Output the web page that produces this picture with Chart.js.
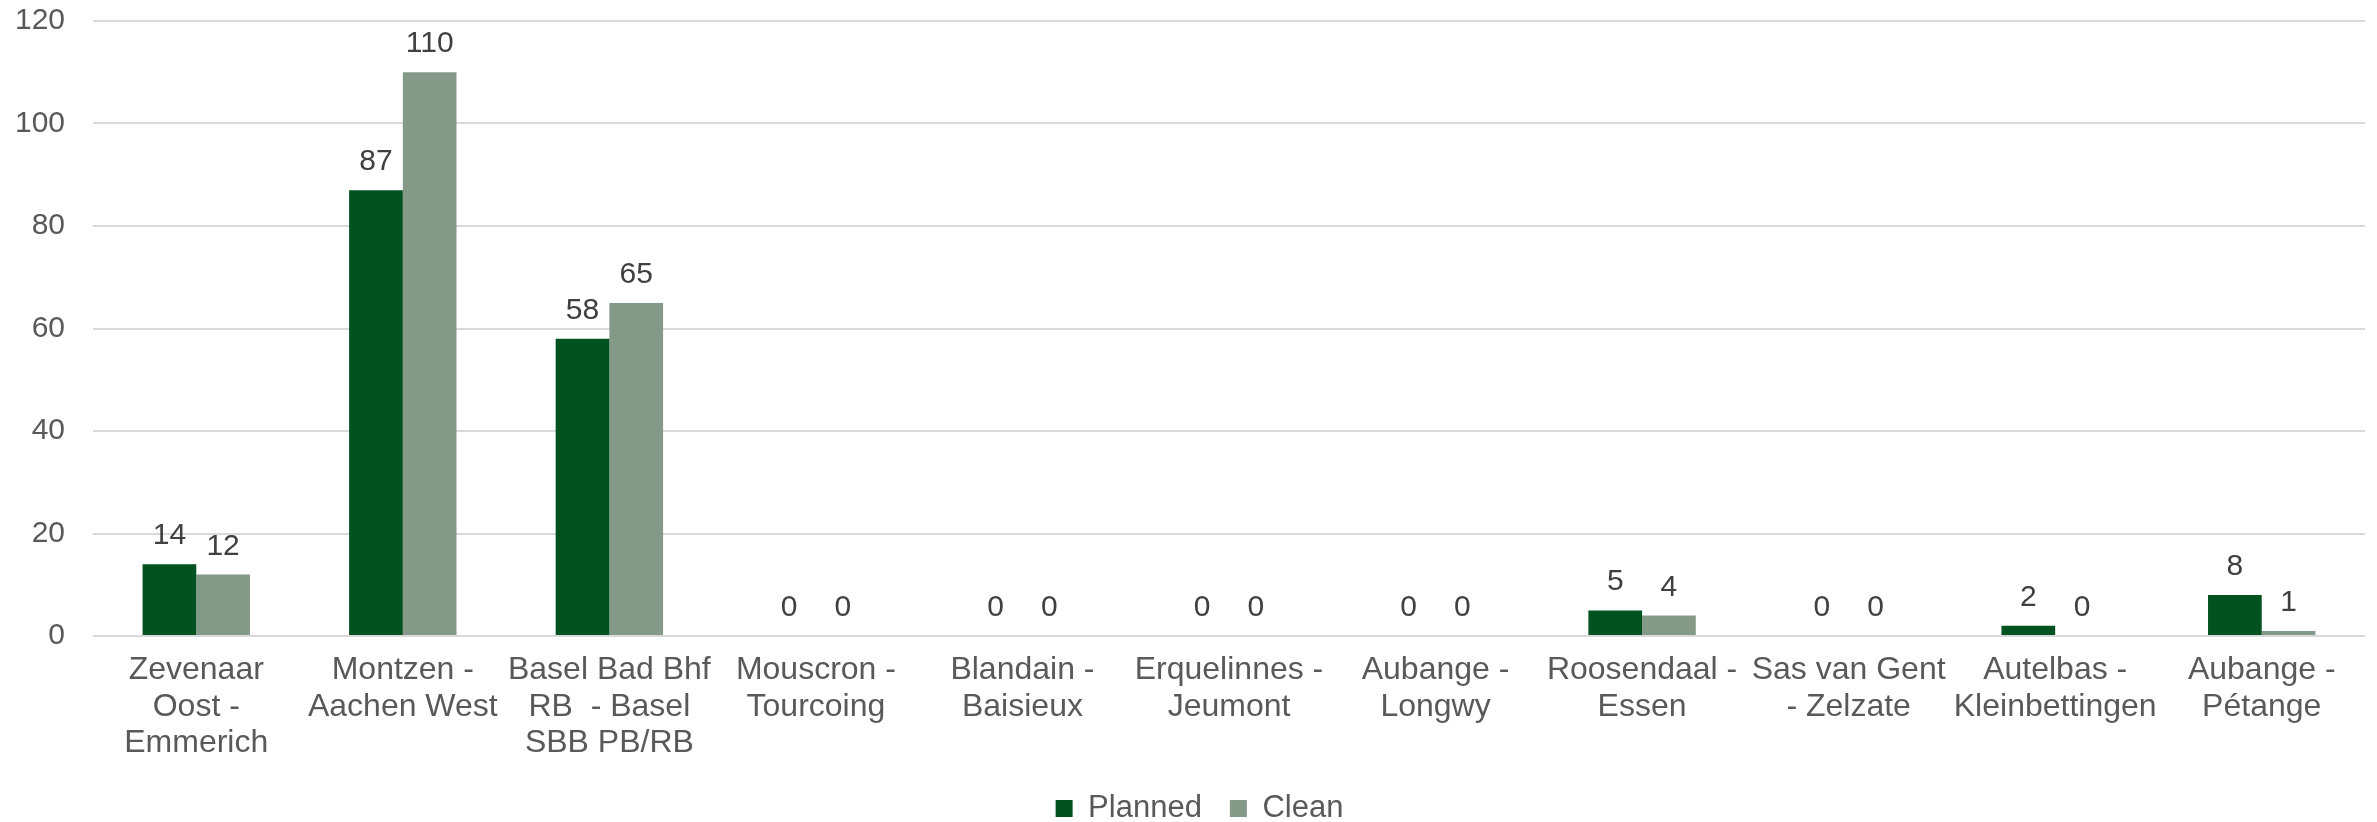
<!DOCTYPE html>
<html>
<head>
<meta charset="utf-8">
<script src="https://cdn.jsdelivr.net/npm/chart.js@4.4.0/dist/chart.umd.min.js"></script>
<style>
  html, body { margin: 0; padding: 0; background: #fff; }
  #wrap { width: 2377px; height: 822px; position: relative; }
</style>
</head>
<body>
<div id="wrap"><canvas id="barChart"></canvas></div>
<script>
// border crossings
const crossings = [
    ['Zevenaar', 'Oost -', 'Emmerich'],
    ['Montzen -', 'Aachen West'],
    ['Basel Bad Bhf', 'RB  - Basel', 'SBB PB/RB'],
    ['Mouscron -', 'Tourcoing'],
    ['Blandain -', 'Baisieux'],
    ['Erquelinnes -', 'Jeumont'],
    ['Aubange -', 'Longwy'],
    ['Roosendaal -', 'Essen'],
    ['Sas van Gent', '- Zelzate'],
    ['Autelbas -', 'Kleinbettingen'],
    ['Aubange -', 'Pétange']
];
const planned = [14, 87, 58, 0, 0, 0, 0, 5, 0, 2, 8];
const clean = [12, 110, 65, 0, 0, 0, 0, 4, 0, 0, 1];
const yTicks = [0, 20, 40, 60, 80, 100, 120];

const fontFamily = '"Liberation Sans", Arial, sans-serif';

// value labels above each bar
const barValues = {
    id: 'barValues',
    afterDatasetsDraw(chart) {
        const ctx = chart.ctx;
        ctx.save();
        ctx.font = '30px ' + fontFamily;
        ctx.fillStyle = '#404040';
        ctx.textAlign = 'center';
        ctx.textBaseline = 'alphabetic';
        chart.data.datasets.forEach((ds, i) => {
            chart.getDatasetMeta(i).data.forEach((bar, j) => {
                ctx.fillText(String(ds.data[j]), bar.x, bar.y - 20);
            });
        });
        ctx.restore();
    }
};

// nudge the legend a bit to the right of the canvas centre
const legendShift = {
    id: 'legendShift',
    afterLayout(chart) {
        chart.legend.left += 17;
        chart.legend.right += 17;
    }
};

const ctx = document.getElementById('barChart').getContext('2d');
const myChart = new Chart(ctx, {
    type: 'bar',
    data: {
        labels: crossings,
        datasets: [{
                label: 'Planned',
                backgroundColor: '#02521f',
                borderWidth: 0,
                data: planned
            },
            {
                label: 'Clean',
                backgroundColor: '#859989',
                borderWidth: 0,
                data: clean
            }
        ]
    },
    plugins: [barValues, legendShift],
    options: {
        responsive: true,
        maintainAspectRatio: false,
        animation: false,
        layout: {
            padding: { top: 0, right: 12, bottom: -12, left: 0 }
        },
        datasets: {
            bar: { categoryPercentage: 0.52, barPercentage: 1.0 }
        },
        plugins: {
            tooltip: { enabled: false },
            legend: {
                position: 'bottom',
                labels: {
                    boxWidth: 17,
                    boxHeight: 17,
                    padding: 28,
                    color: '#595959',
                    font: { family: fontFamily, size: 31 }
                }
            }
        },
        scales: {
            x: {
                grid: { display: false, drawTicks: false },
                border: { display: false },
                ticks: {
                    color: '#595959',
                    padding: 16,
                    maxRotation: 0,
                    autoSkip: false,
                    font: { family: fontFamily, size: 32, lineHeight: 1.14 }
                },
                afterFit(scale) { scale.height = 129; }
            },
            y: {
                min: 0,
                max: 120,
                afterBuildTicks(scale) {
                    scale.ticks = yTicks.map(v => ({ value: v }));
                },
                grid: { color: '#d9d9d9', lineWidth: 2, drawTicks: false },
                border: { display: false },
                ticks: {
                    color: '#595959',
                    padding: 28,
                    font: { family: fontFamily, size: 30 }
                },
                afterFit(scale) {
                    scale.width = 93;
                    scale.paddingTop = 21;
                    scale.paddingBottom = 0;
                }
            }
        }
    }
});
</script>
</body>
</html>
